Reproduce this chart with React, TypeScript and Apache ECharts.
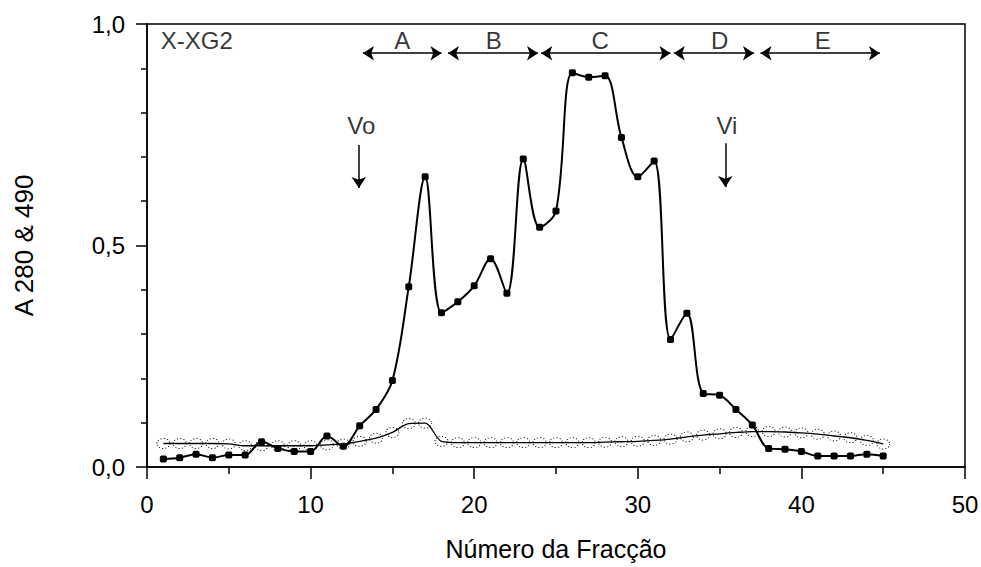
import React, { useEffect, useRef } from "react";
import * as echarts from "echarts";

const fractions = [1,2,3,4,5,6,7,8,9,10,11,12,13,14,15,16,17,18,19,20,21,22,23,24,25,26,27,28,29,30,31,32,33,34,35,36,37,38,39,40,41,42,43,44,45];
const a280 = [0.018,0.021,0.029,0.021,0.027,0.027,0.057,0.042,0.035,0.035,0.070,0.047,0.093,0.130,0.195,0.407,0.655,0.348,0.373,0.409,0.470,0.392,0.695,0.541,0.578,0.890,0.880,0.883,0.744,0.655,0.691,0.288,0.347,0.166,0.162,0.130,0.095,0.042,0.040,0.035,0.025,0.025,0.025,0.029,0.025];
const a490 = [0.053,0.053,0.053,0.053,0.052,0.048,0.048,0.048,0.048,0.048,0.050,0.052,0.058,0.065,0.078,0.098,0.099,0.058,0.055,0.055,0.055,0.055,0.055,0.055,0.055,0.055,0.055,0.056,0.057,0.058,0.060,0.063,0.068,0.072,0.075,0.078,0.080,0.080,0.079,0.077,0.074,0.070,0.066,0.060,0.052];

const poolNames = ["A", "B", "C", "D", "E"];
const poolStart = [13.2, 18.4, 24.1, 32.2, 37.5];
const poolEnd = [18.0, 23.9, 32.0, 37.1, 44.8];
const poolLabelX = [15.6, 21.2, 27.7, 35.0, 41.3];
const poolArrowY = 0.934;
const poolLabelY = 0.962;

const markerNames = ["Vo", "Vi"];
const markerX = [12.95, 35.35];
const markerTextX = [13.1, 35.45];
const markerTextY = [0.77, 0.772];
const markerTop = [0.727, 0.731];
const markerBottom = [0.630, 0.632];

const sampleName = "X-XG2";
const sampleX = 0.84;
const sampleY = 0.962;

const FONT = "'Liberation Sans', Arial, sans-serif";

export default function App() {
  const ref = useRef<HTMLDivElement>(null);
  useEffect(() => {
    if (!ref.current) return;
    const chart = echarts.init(ref.current, null, { renderer: "svg" });
    const textItems = [
      ...poolNames.map((n, i) => ({ name: n, value: [poolLabelX[i], poolLabelY] })),
      ...markerNames.map((n, i) => ({ name: n, value: [markerTextX[i], markerTextY[i]] })),
      { name: sampleName, value: [sampleX, sampleY], label: { position: "right", distance: 0 } },
    ];
    const arrowLines: any[] = [
      ...poolNames.map((_, i) => [
        { coord: [poolStart[i], poolArrowY], symbol: "arrow" },
        { coord: [poolEnd[i], poolArrowY], symbol: "arrow" },
      ]),
      ...markerNames.map((_, i) => [
        { coord: [markerX[i], markerTop[i]], symbol: "none" },
        { coord: [markerX[i], markerBottom[i]], symbol: "arrow" },
      ]),
    ];
    chart.setOption({
      animation: false,
      backgroundColor: "#fff",
      textStyle: { fontFamily: FONT },
      grid: {
        left: 147, right: 16, top: 24, bottom: 100,
        containLabel: false, outerBoundsMode: "none",
        show: true, borderColor: "#000", borderWidth: 1.5, backgroundColor: "transparent",
      },
      xAxis: {
        type: "value", min: 0, max: 50, interval: 10,
        name: "Número da Fracção", nameLocation: "middle", nameGap: 69,
        nameTextStyle: { fontSize: 25, color: "#000", fontFamily: FONT },
        axisLine: { show: true, lineStyle: { color: "#000", width: 1.5 } },
        axisTick: { show: true, inside: false, length: 12, lineStyle: { color: "#000", width: 1.5 } },
        minorTick: { show: true, splitNumber: 2, length: 7, lineStyle: { color: "#000", width: 1.5 } },
        axisLabel: { fontSize: 24, color: "#000", margin: 25, fontFamily: FONT },
        splitLine: { show: false },
      },
      yAxis: {
        type: "value", min: 0, max: 1, interval: 0.5,
        name: "A 280 & 490", nameLocation: "middle", nameGap: 110,
        nameTextStyle: { fontSize: 26, color: "#000", fontFamily: FONT },
        axisLine: { show: true, lineStyle: { color: "#000", width: 1.5 } },
        axisTick: { show: true, inside: false, length: 11, lineStyle: { color: "#000", width: 1.5 } },
        minorTick: { show: true, splitNumber: 5, length: 6, lineStyle: { color: "#000", width: 1.5 } },
        axisLabel: {
          fontSize: 24, color: "#000", margin: 22, fontFamily: FONT,
          formatter: (v: number) => v.toFixed(1).replace(".", ","),
        },
        splitLine: { show: false },
      },
      series: [
        {
          type: "line",
          name: "A490",
          data: fractions.map((f, i) => [f, a490[i]]),
          smooth: 0.3,
          symbol: "circle",
          symbolSize: [13, 10],
          lineStyle: { color: "#000", width: 1.3 },
          itemStyle: { color: "transparent", borderColor: "#000", borderWidth: 1, borderType: [1, 2] },
          z: 2,
        },
        {
          type: "line",
          name: "A280",
          data: fractions.map((f, i) => [f, a280[i]]),
          smooth: 0.35,
          symbol: "roundRect",
          symbolSize: 7,
          lineStyle: { color: "#000", width: 2 },
          itemStyle: { color: "#000" },
          z: 3,
        },
        {
          type: "scatter",
          data: textItems,
          symbolSize: 0,
          silent: true,
          label: {
            show: true, position: "inside", formatter: "{b}",
            color: "#000", fontSize: 24, fontFamily: FONT,
          },
          markLine: {
            silent: true,
            symbolSize: 11,
            label: { show: false },
            lineStyle: { color: "#000", width: 1.5, type: "solid" },
            emphasis: { disabled: true },
            data: arrowLines,
          },
          z: 4,
        },
      ],
    });
    return () => chart.dispose();
  }, []);
  return <div ref={ref} style={{ width: 981, height: 567, position: "absolute", left: 0, top: 0 }} />;
}
